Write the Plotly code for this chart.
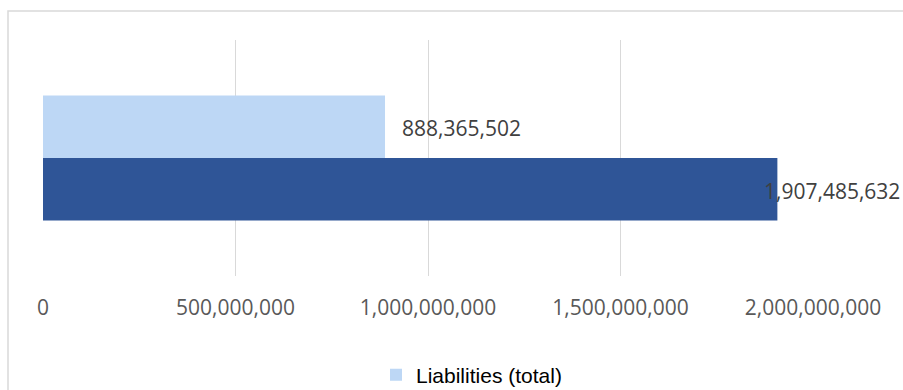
import plotly.graph_objects as go

categories = ["Total"]
assets_name = "Assets (total)"
assets_values = [1907485632]
liabilities_name = "Liabilities (total)"
liabilities_values = [888365502]
tick_values = [0, 500000000, 1000000000, 1500000000, 2000000000]
tick_labels = ["0", "500,000,000", "1,000,000,000", "1,500,000,000", "2,000,000,000"]

W, H = 903, 390
ML, MR, MT, MB = 43, 90, 40, 114
PW = W - ML - MR
PH = H - MT - MB


def px_x(px):
    return (px - ML) / PW


def px_y(py):
    return (H - MB - py) / PH


fig = go.Figure()
fig.add_trace(go.Bar(
    y=categories, x=assets_values, orientation="h", name=assets_name,
    marker=dict(color="#2F5597", line=dict(width=0)), showlegend=False,
    hoverinfo="x",
))
fig.add_trace(go.Bar(
    y=categories, x=liabilities_values, orientation="h", name=liabilities_name,
    marker=dict(color="#BDD7F5", line=dict(width=0)), showlegend=True,
    hoverinfo="x",
))

label_font = dict(family="Open Sans", size=21, color="#404040")
fig.add_annotation(x=liabilities_values[0], y=categories[0], xref="x", yref="y",
                   text=f"{liabilities_values[0]:,}", showarrow=False,
                   xanchor="left", yanchor="middle", xshift=15, yshift=30,
                   font=label_font)
fig.add_annotation(x=assets_values[0], y=categories[0], xref="x", yref="y",
                   text=f"{assets_values[0]:,}", showarrow=False,
                   xanchor="left", yanchor="middle", xshift=-15, yshift=-33,
                   font=label_font)

# chart-area border (extends past right and bottom edges)
fig.add_shape(type="rect", xref="paper", yref="paper",
              x0=px_x(8), x1=px_x(920), y0=px_y(420), y1=px_y(11),
              line=dict(color="#D9D9D9", width=1.5), fillcolor="rgba(0,0,0,0)",
              layer="below")

fig.update_layout(
    width=W, height=H,
    margin=dict(l=ML, r=MR, t=MT, b=MB, pad=0, autoexpand=False),
    paper_bgcolor="white", plot_bgcolor="white",
    barmode="group", bargap=0.47, bargroupgap=0,
    xaxis=dict(range=[0, 2000000000], tickvals=tick_values, ticktext=tick_labels,
               showgrid=True, gridcolor="#D9D9D9", gridwidth=1.3,
               zeroline=False, showline=False, ticks="", ticklabelstandoff=17,
               tickfont=dict(family="Open Sans", size=21, color="#595959"),
               automargin=False, fixedrange=True),
    yaxis=dict(showticklabels=False, showgrid=False, zeroline=False,
               showline=False, ticks="", automargin=False, fixedrange=True),
    legend=dict(orientation="h", x=px_x(376), y=px_y(375), xanchor="left",
                yanchor="middle", font=dict(family="Liberation Sans", size=21,
                                            color="#000000"),
                bgcolor="rgba(0,0,0,0)", itemwidth=30),
    showlegend=True,
)

fig.write_html("out.html", config={"displayModeBar": False},
               post_script="document.body.style.margin='0px';")
